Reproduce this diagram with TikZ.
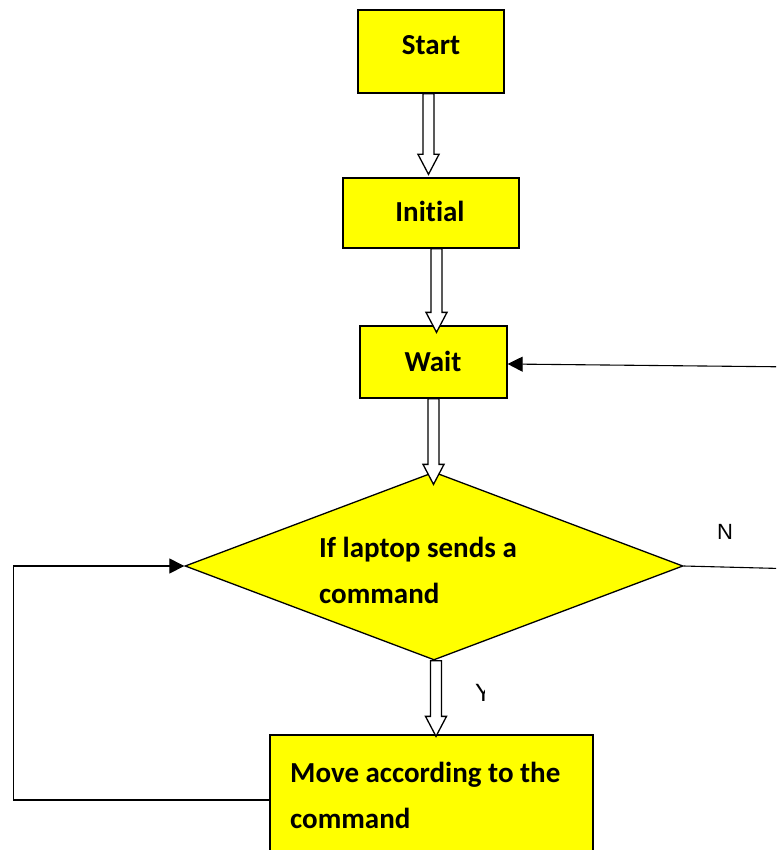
\documentclass[tikz,border=0pt]{standalone}
\usepackage{fontspec}
\setmainfont{Carlito}[Ligatures=NoCommon]
\newfontfamily\labelfont{Liberation Sans}
\usetikzlibrary{shapes.geometric,calc,arrows.meta}
\definecolor{boxyellow}{RGB}{255,255,0}

% hollow block arrow from the bottom of #1 to the top of #2,
% shifted sideways by #3 and with its tip moved down by #4
\newcommand\hollowarrow[4]{%
  \draw[hollow] let \p1=(#1.south), \p2=(#2.north) in
    (\x1+#3-5.5,\y1) -- (\x1+#3-5.5,\y2-#4+20) -- (\x1+#3-10.5,\y2-#4+20)
    -- (\x1+#3,\y2-#4) -- (\x1+#3+10.5,\y2-#4+20) -- (\x1+#3+5.5,\y2-#4+20)
    -- (\x1+#3+5.5,\y1) -- cycle;}

\begin{document}
\begin{tikzpicture}[x=1pt,y=-1pt,
  box/.style={draw=black, line width=1.3pt, fill=boxyellow, inner sep=0pt},
  hollow/.style={draw=black, line width=1.3pt, fill=white, line join=miter},
  link/.style={draw=black, line width=1.1pt},
  tip/.style={-{Triangle[length=15pt,width=15pt]}},
  lbl/.style={font=\bfseries\fontsize{29}{46}\selectfont, inner sep=0pt},
  side/.style={font=\labelfont\fontsize{22}{26}\selectfont, inner sep=0pt}
]
\clip (0,0) rectangle (776,850);
\fill[white] (0,0) rectangle (776,850);

% process boxes and the decision
\node[box, minimum width=146pt, minimum height=83pt] (start) at (431,51.5) {};
\node[box, minimum width=176pt, minimum height=70pt] (init) at (431,213) {};
\node[box, minimum width=147pt, minimum height=72pt] (wait) at (433.5,362) {};
\node[diamond, box, minimum width=498pt, minimum height=188pt] (dec) at (434,566) {};
\node[box, minimum width=323pt, minimum height=130pt] (move) at (431.5,800) {};

% texts
\node[lbl, anchor=base] (tstart) at (431,55) {Start};
\node[lbl, anchor=base] (tinit) at (430,222) {Initial};
\node[lbl, anchor=base] (twait) at (433,371) {Wait};
\node[lbl, anchor=base west] (tdec1) at (319,557) {If laptop sends a};
\node[lbl, anchor=base west] (tdec2) at (319,603) {command};
\node[lbl, anchor=base west] (tmove1) at (290,782) {Move according to the};
\node[lbl, anchor=base west] (tmove2) at (290,828) {command};

% flow arrows
\hollowarrow{start}{init}{-2.5}{-3}
\hollowarrow{init}{wait}{5.5}{7}
\hollowarrow{wait}{dec}{0}{13}
\hollowarrow{dec}{move}{2}{2}

% loop back from the move step to the decision
\draw[link, tip] (move.west) -- ++(-256,0) |- (dec.west);

% "no" branch leaving to the right and coming back into the wait step
\coordinate (noOut) at (800,569);
\coordinate (noIn) at (800,367);
\draw[link] (dec.east) -- (noOut);
\draw[link, tip] (noIn) -- ([yshift=-2pt]wait.east);
\node[side] (nlab) at (725,532) {N};

% "yes" label, partly hidden
\begin{scope}
  \clip (474,682) rectangle (484.7,702);
  \node[side, anchor=base, font=\labelfont\fontsize{25}{28}\selectfont] (ylab) at (483.5,701) {Y};
\end{scope}
\end{tikzpicture}
\end{document}
